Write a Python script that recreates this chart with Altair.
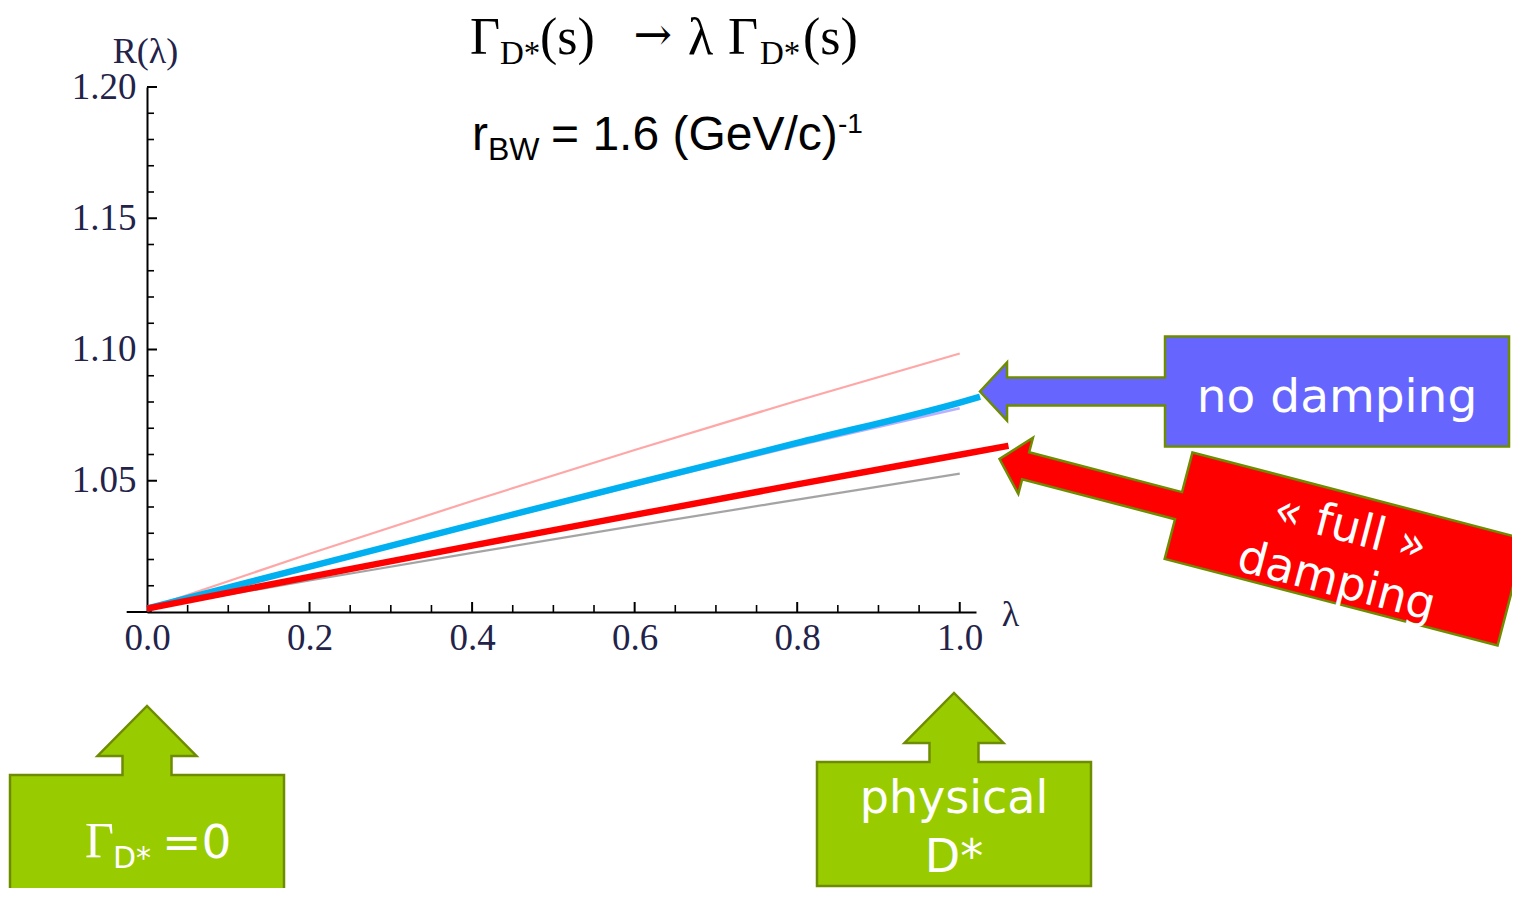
import altair as alt
import pandas as pd

# ---------------- data ----------------
LAMBDA = [0.0, 0.2, 0.4, 0.6, 0.8, 1.0]
R_UPPER_THIN = [1.0013, 1.0222, 1.0423, 1.0617, 1.0805, 1.0985]     # light red thin
R_LOWER_THIN = [1.0013, 1.0120, 1.0225, 1.0328, 1.0428, 1.0527]     # grey thin
R_NO_DAMP_ALT = [1.0013, 1.0170, 1.0327, 1.0482, 1.0634, 1.0776]    # faint purple
LAMBDA_NO_DAMP = [0.0, 0.2, 0.4, 0.6, 0.8, 1.0, 1.025]
R_NO_DAMP = [1.0013, 1.0173, 1.0332, 1.0489, 1.0644, 1.0798, 1.0820]  # blue thick
LAMBDA_FULL_DAMP = [0.0, 0.2, 0.4, 0.6, 0.8, 1.0, 1.06]
R_FULL_DAMP = [1.0013, 1.0134, 1.0253, 1.0370, 1.0486, 1.0599, 1.0633]  # red thick

X_TICK_LABELS = [0.0, 0.2, 0.4, 0.6, 0.8, 1.0]
X_MINOR = [0.05, 0.1, 0.15, 0.25, 0.3, 0.35, 0.45, 0.5, 0.55, 0.65, 0.7, 0.75, 0.85, 0.9, 0.95]
Y_TICK_LABELS = [1.05, 1.10, 1.15, 1.20]
Y_MINOR = [1.01, 1.02, 1.03, 1.04, 1.06, 1.07, 1.08, 1.09, 1.11, 1.12, 1.13, 1.14,
           1.16, 1.17, 1.18, 1.19]

# annotation texts (positions in data coordinates)
TITLE_BIG = ["Γ", "(s)", "λ", "Γ", "(s)"]
TITLE_BIG_LAM = [0.3974, 0.4835, 0.6656, 0.7149, 0.8071]
TITLE_ARROW = ["→"]
TITLE_ARROW_LAM = [0.5985]
TITLE_SUB = ["D*", "D*"]
TITLE_SUB_LAM = [0.4343, 0.7542]
RBW_MAIN = ["r", "= 1.6 (GeV/c)"]
RBW_MAIN_LAM = [0.3999, 0.4971]
RBW_SUB = ["BW"]
RBW_SUP = ["-1"]

CALLOUT_BLUE = [1.4642, 1.0840]
CALLOUT_RED = [1.4740, 1.0240]
CALLOUT_GREEN_LAM = [0.0, 0.99292]
CALLOUT_GREEN_R = [0.91429, 0.91924]

# ---------------- shared scales / axes ----------------
xscale = alt.Scale(domain=[0, 1.02], nice=False, zero=False)
yscale = alt.Scale(domain=[1.0, 1.2], nice=False, zero=False)
LABEL_COLOR = "#23234a"

xaxis = alt.Axis(values=X_TICK_LABELS, format=".1f", ticks=False, tickSize=0, grid=False,
                 domainColor="black", domainWidth=2, labelFont="Liberation Serif",
                 labelFontSize=37, labelColor=LABEL_COLOR, labelPadding=8,
                 labelFlush=False, labelOverlap=False, title="λ",
                 titleFont="Liberation Serif", titleFontSize=36, titleFontWeight="normal",
                 titleColor=LABEL_COLOR, titleX=863, titleY=2, titleAlign="center",
                 titleBaseline="middle")
yaxis = alt.Axis(values=Y_TICK_LABELS, format=".2f", ticks=False, tickSize=0, grid=False,
                 domainColor="black", domainWidth=2, labelFont="Liberation Serif",
                 labelFontSize=37, labelColor=LABEL_COLOR, labelPadding=11,
                 labelFlush=False, labelOverlap=False, title="R(λ)", titleAngle=0,
                 titleFont="Liberation Serif", titleFontSize=36, titleFontWeight="normal",
                 titleColor=LABEL_COLOR, titleX=-2, titleY=-36, titleAlign="center",
                 titleBaseline="middle")

X = alt.X("lam:Q", scale=xscale, axis=xaxis)
Y = alt.Y("R:Q", scale=yscale, axis=yaxis)


def df(lam, r, label=None):
    d = {"lam": lam, "R": r}
    if label is not None:
        d["label"] = label
    return pd.DataFrame(d)


def line(lam, r, color, width, opacity=1.0):
    return alt.Chart(df(lam, r)).mark_line(
        color=color, strokeWidth=width, strokeCap="butt", opacity=opacity,
        interpolate="monotone").encode(x=X, y=Y)


def text(lam, r, labels, **kw):
    return alt.Chart(df(lam, r, labels)).mark_text(**kw).encode(x=X, y=Y, text="label:N")


# ---------------- axis ticks (pointing inward) ----------------
x_major = alt.Chart(df(X_TICK_LABELS[1:], [1.0] * 5)).mark_rule(
    color="black", strokeWidth=2, y2Offset=-10).encode(x=X, y=Y, y2="R:Q")
x_minor = alt.Chart(df(X_MINOR, [1.0] * len(X_MINOR))).mark_rule(
    color="black", strokeWidth=1.6, y2Offset=-7).encode(x=X, y=Y, y2="R:Q")
y_major = alt.Chart(df([0.0] * 4, Y_TICK_LABELS)).mark_rule(
    color="black", strokeWidth=2, x2Offset=10).encode(x=X, x2="lam:Q", y=Y)
y_minor = alt.Chart(df([0.0] * len(Y_MINOR), Y_MINOR)).mark_rule(
    color="black", strokeWidth=1.6, x2Offset=7).encode(x=X, x2="lam:Q", y=Y)
x_axis_ext = alt.Chart(df([-0.025], [1.0])).mark_rule(
    color="black", strokeWidth=2, x2Offset=25).encode(x=X, x2="lam:Q", y=Y)

# ---------------- curves ----------------
curves = [
    line(LAMBDA, R_LOWER_THIN, "#9a9a9a", 2.2, 0.9),
    line(LAMBDA, R_UPPER_THIN, "#ff9c9c", 2.2, 0.9),
    line(LAMBDA, R_NO_DAMP_ALT, "#a99cff", 2.5, 0.8),
    line(LAMBDA_NO_DAMP, R_NO_DAMP, "#00b0f0", 6.5),
    line(LAMBDA_FULL_DAMP, R_FULL_DAMP, "#ff0000", 6.5),
]

# ---------------- callouts ----------------
OUTLINE = "#6e8c00"
ARROW_LEFT = ("M-172,-55L172,-55L172,55L-172,55L-172,14L-330,14L-330,29L-357,0"
              "L-330,-29L-330,-14L-172,-14Z")
ARROW_UP = ("M-137,-62L-24.5,-62L-24.5,-81L-49.5,-81L0,-131L49.5,-81L24.5,-81"
            "L24.5,-62L137,-62L137,62L-137,62Z")

blue_box = alt.Chart(df([CALLOUT_BLUE[0]], [CALLOUT_BLUE[1]])).mark_point(
    shape=ARROW_LEFT, size=4, filled=True, fill="#6666ff", stroke=OUTLINE,
    strokeWidth=2.5, opacity=1).encode(x=X, y=Y)
red_box = alt.Chart(df([CALLOUT_RED[0]], [CALLOUT_RED[1]])).mark_point(
    shape=ARROW_LEFT, size=4, angle=14.6, filled=True, fill="#ff0000", stroke=OUTLINE,
    strokeWidth=2.5, opacity=1).encode(x=X, y=Y)
green_boxes = alt.Chart(df(CALLOUT_GREEN_LAM, CALLOUT_GREEN_R)).mark_point(
    shape=ARROW_UP, size=4, filled=True, fill="#99cc00", stroke=OUTLINE,
    strokeWidth=2.5, opacity=1).encode(x=X, y=Y)

SANS = "DejaVu Sans"
callout_text = [
    text([1.4642], [1.07619], ["no damping"], font=SANS, fontSize=47, color="white",
         align="center", baseline="alphabetic"),
    text([1.4762, 1.4591], [1.02659, 1.00629], ["« full »", "damping"], font=SANS,
         fontSize=46, color="white", align="center", baseline="alphabetic", angle=14.6),
    text([0.99292, 0.99292], [0.92343, 0.90095], ["physical", "D*"], font=SANS,
         fontSize=46, color="white", align="center", baseline="alphabetic"),
    text([-0.07628], [0.90667], ["Γ"], font="Liberation Serif", fontSize=50,
         color="white", align="left", baseline="alphabetic"),
    text([-0.04183], [0.90248], ["D*"], font=SANS, fontSize=30, color="white",
         align="left", baseline="alphabetic"),
    text([0.01846], [0.90629], ["=0"], font=SANS, fontSize=47, color="white",
         align="left", baseline="alphabetic"),
]

# ---------------- header formulas ----------------
header = [
    text(TITLE_BIG_LAM, [1.21257] * len(TITLE_BIG), TITLE_BIG, font="Liberation Serif",
         fontSize=52, color="black", align="left", baseline="alphabetic"),
    text(TITLE_ARROW_LAM, [1.21409], TITLE_ARROW, font="DejaVu Serif",
         fontSize=46, color="black", align="left", baseline="alphabetic"),
    text(TITLE_SUB_LAM, [1.20876] * 2, TITLE_SUB, font="Liberation Serif",
         fontSize=33, color="black", align="left", baseline="alphabetic"),
    text(RBW_MAIN_LAM, [1.1760] * 2, RBW_MAIN, font="Liberation Sans",
         fontSize=48, color="black", align="left", baseline="alphabetic"),
    text([0.4196], [1.17219], RBW_SUB, font="Liberation Sans",
         fontSize=32, color="black", align="left", baseline="alphabetic"),
    text([0.8502], [1.18248], RBW_SUP, font="Liberation Sans",
         fontSize=28, color="black", align="left", baseline="alphabetic"),
]

chart = alt.layer(
    x_axis_ext, x_major, x_minor, y_major, y_minor,
    *curves,
    blue_box, red_box, green_boxes,
    *callout_text,
    *header,
).properties(
    width=829, height=525,
    autosize=alt.AutoSizeParams(type="none"),
    padding={"left": 139, "top": 79, "right": 536, "bottom": 276},
    background="white",
).configure_view(strokeWidth=0)

chart.save("out.html", embed_options={"renderer": "svg", "actions": False})
